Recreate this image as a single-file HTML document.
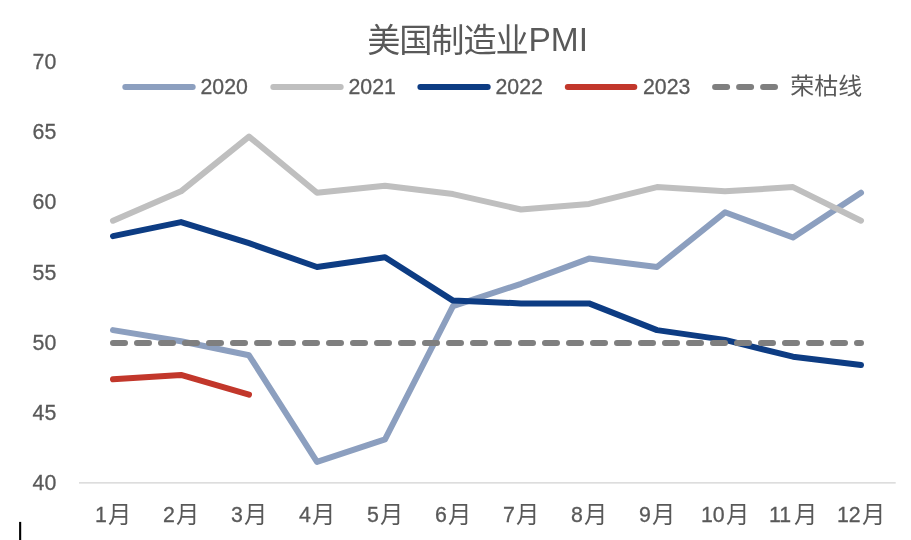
<!DOCTYPE html>
<html lang="zh-CN">
<head>
<meta charset="utf-8">
<title>美国制造业PMI</title>
<style>
html,body{margin:0;padding:0;background:#fff;}
body{width:911px;height:540px;overflow:hidden;position:relative;}
svg{display:block;position:absolute;left:0;top:0;}
text{font-family:"Liberation Sans", "Noto Sans CJK SC", sans-serif;fill:#595959;}
.ax{font-size:21.3px;stroke:#595959;stroke-width:0.3px;}
.cj{font-size:23.4px;stroke:none;}
.lg{font-size:24px;}
.ln{fill:none;stroke-width:6;stroke-linecap:round;stroke-linejoin:round;}
</style>
</head>
<body>
<svg width="911" height="540" viewBox="0 0 911 540">
<rect x="0" y="0" width="911" height="540" fill="#ffffff"/>
<line x1="79" y1="482.9" x2="895.7" y2="482.9" stroke="#D2D2D2" stroke-width="1.4"/>

<text class="ax" x="32.6" y="490.3">40</text>
<text class="ax" x="32.6" y="420.0">45</text>
<text class="ax" x="32.6" y="349.8">50</text>
<text class="ax" x="32.6" y="279.5">55</text>
<text class="ax" x="32.6" y="209.3">60</text>
<text class="ax" x="32.6" y="139.0">65</text>
<text class="ax" x="32.6" y="68.8">70</text>
<text class="ax" x="94.88" y="522">1<tspan class="cj" x="108.12" y="523.3">月</tspan></text>
<text class="ax" x="162.88" y="522">2<tspan class="cj" x="176.12" y="523.3">月</tspan></text>
<text class="ax" x="230.88" y="522">3<tspan class="cj" x="244.12" y="523.3">月</tspan></text>
<text class="ax" x="298.88" y="522">4<tspan class="cj" x="312.12" y="523.3">月</tspan></text>
<text class="ax" x="366.88" y="522">5<tspan class="cj" x="380.12" y="523.3">月</tspan></text>
<text class="ax" x="434.88" y="522">6<tspan class="cj" x="448.12" y="523.3">月</tspan></text>
<text class="ax" x="502.88" y="522">7<tspan class="cj" x="516.12" y="523.3">月</tspan></text>
<text class="ax" x="570.88" y="522">8<tspan class="cj" x="584.12" y="523.3">月</tspan></text>
<text class="ax" x="638.88" y="522">9<tspan class="cj" x="652.12" y="523.3">月</tspan></text>
<text class="ax" x="700.95" y="522">10<tspan class="cj" x="726.05" y="523.3">月</tspan></text>
<text class="ax" x="768.95" y="522">11<tspan class="cj" x="794.05" y="523.3">月</tspan></text>
<text class="ax" x="836.95" y="522">12<tspan class="cj" x="862.05" y="523.3">月</tspan></text>
<text x="367.2" y="52.0"><tspan style="font-size:33.2px;letter-spacing:-1.1px">美国制造业</tspan><tspan x="528.5" y="50.7" style="font-size:33.5px">PMI</tspan></text>
<polyline class="ln" stroke="#8C9FBF" points="113.0,330.1 181.0,341.3 249.0,355.3 317.0,461.9 385.0,439.4 453.0,306.2 521.0,283.8 589.0,258.6 657.0,267.0 725.0,212.3 793.0,237.5 861.0,192.7"/>
<polyline class="ln" stroke="#BFBFBF" points="113.0,220.7 181.0,191.3 249.0,136.6 317.0,192.7 385.0,185.7 453.0,194.1 521.0,209.5 589.0,203.9 657.0,187.1 725.0,191.3 793.0,187.1 861.0,220.7"/>
<polyline class="ln" stroke="#0D3C83" points="113.0,236.1 181.0,222.1 249.0,243.2 317.0,267.0 385.0,257.2 453.0,300.6 521.0,303.4 589.0,303.4 657.0,330.1 725.0,339.9 793.0,356.7 861.0,365.1"/>
<polyline class="ln" stroke="#C2372B" points="113.0,379.2 181.0,374.9 249.0,394.6"/>
<line class="ln" stroke="#7F7F7F" x1="113.0" y1="342.9" x2="861.0" y2="342.9" stroke-dasharray="12 12"/>
<line class="ln" stroke="#8C9FBF" x1="125.3" y1="87.0" x2="192.7" y2="87.0"/>
<text class="ax" x="200.5" y="94.3">2020</text>
<line class="ln" stroke="#BFBFBF" x1="273.3" y1="87.0" x2="340.7" y2="87.0"/>
<text class="ax" x="348.5" y="94.3">2021</text>
<line class="ln" stroke="#0D3C83" x1="420.4" y1="87.0" x2="487.7" y2="87.0"/>
<text class="ax" x="495.5" y="94.3">2022</text>
<line class="ln" stroke="#C2372B" x1="567.8" y1="87.0" x2="634.3" y2="87.0"/>
<text class="ax" x="643" y="94.3">2023</text>
<line class="ln" stroke="#7F7F7F" x1="715.1" y1="87.0" x2="775" y2="87.0" stroke-dasharray="12 12"/>
<text class="lg" transform="translate(790.2,93.6) scale(1,0.93)">荣枯线</text>
<rect x="19.1" y="521.9" width="2.1" height="19" fill="#000"/>
</svg>
</body>
</html>
